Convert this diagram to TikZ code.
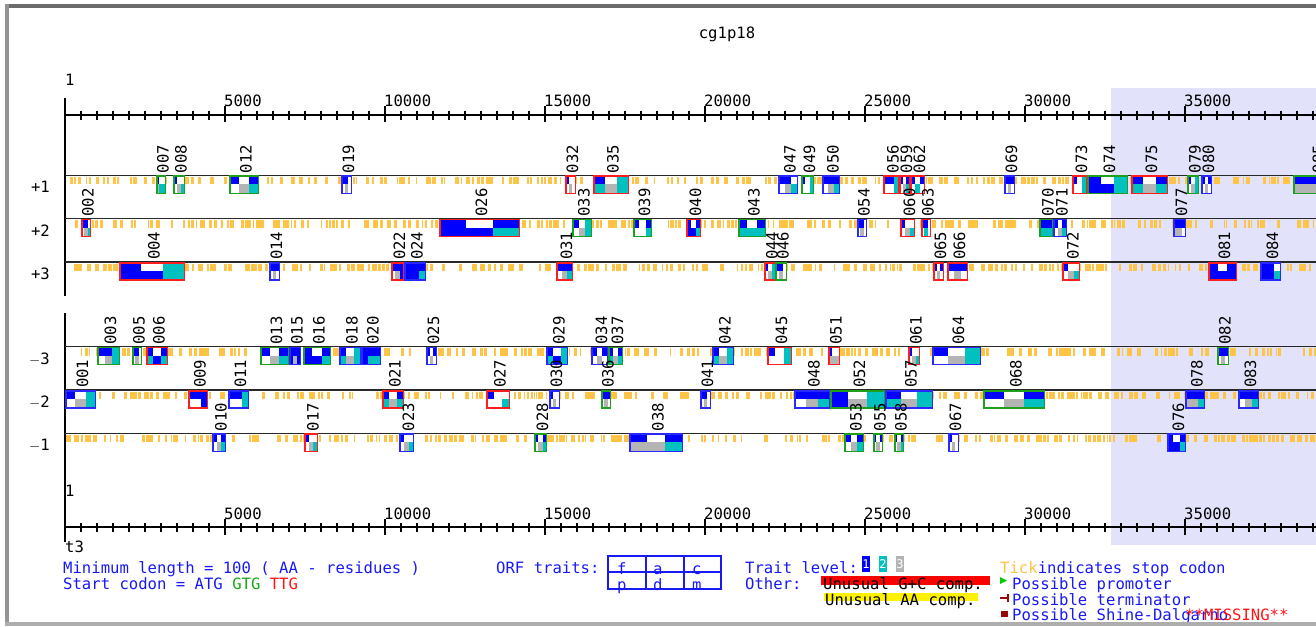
\documentclass[tikz,border=0pt]{standalone}
\usepackage{fontspec}
\setmainfont{DejaVu Sans Mono}
\definecolor{cB}{RGB}{0,0,255}
\definecolor{cW}{RGB}{255,255,255}
\definecolor{cC}{RGB}{0,192,192}
\definecolor{cG}{RGB}{180,180,180}
\definecolor{bB}{RGB}{40,40,255}
\definecolor{bG}{RGB}{30,160,30}
\definecolor{bR}{RGB}{255,30,30}
\definecolor{tickc}{RGB}{255,196,70}
\definecolor{shadec}{RGB}{226,226,250}
\definecolor{txtblue}{RGB}{25,25,245}
\definecolor{gtgc}{RGB}{20,170,20}
\definecolor{ttgc}{RGB}{255,20,20}
\definecolor{darkredc}{RGB}{150,10,10}
\definecolor{lineg}{RGB}{40,40,40}
\newcommand\lblfont{\fontsize{15.6}{16}\selectfont}
\newcommand\orfcells[6]{%
  \fill[c#1] (\orfXa,\orfY) rectangle (\orfXb,\orfY+9);
  \fill[c#2] (\orfXb,\orfY) rectangle (\orfXc,\orfY+9);
  \fill[c#3] (\orfXc,\orfY) rectangle (\orfXd,\orfY+9);
  \fill[c#4] (\orfXa,\orfY+9) rectangle (\orfXb,\orfY+18);
  \fill[c#5] (\orfXb,\orfY+9) rectangle (\orfXc,\orfY+18);
  \fill[c#6] (\orfXc,\orfY+9) rectangle (\orfXd,\orfY+18);
}
\newcommand\orf[6]{%
  \pgfmathsetmacro\orfXa{#2}\pgfmathsetmacro\orfXd{#3}%
  \pgfmathsetmacro\orfXb{#2+(#3-#2)/3}\pgfmathsetmacro\orfXc{#2+2*(#3-#2)/3}%
  \def\orfY{#4}%
  \orfcells#6
  \draw[#5,line width=1.5pt] (\orfXa+0.75,\orfY+0.75) rectangle (\orfXd-0.75,\orfY+18);
  \node[orflabel] (o#1) at ({(\orfXa+\orfXd)/2+7.5},{\orfY-2}) {#1};
}
\newcommand\stopticks[1]{%
  \foreach \k in {1,...,300}{%
    \pgfmathsetmacro\tx{66+1250*rnd}%
    \pgfmathsetmacro\tw{1.2+2*rnd}%
    \fill[tickc] (\tx,#1+1.5) rectangle ++(\tw,7.5);
  }}
\tikzset{
  orflabel/.style={rotate=90,anchor=base west,inner sep=0pt,font=\lblfont,text=black},
  txt/.style={anchor=base west,inner sep=0pt,font=\lblfont},
  legtxt/.style={txt,text=txtblue},
  frameline/.style={draw=lineg,line width=1.3pt},
  axisline/.style={draw=black,line width=1.3pt},
}
\begin{document}
\begin{tikzpicture}[x=1pt,y=-1pt]
\useasboundingbox (0,0) rectangle (1316,626);
\clip (0,0) rectangle (1316,626);
\fill[white] (0,0) rectangle (1316,626);
% shaded region
\fill[shadec] (1111,88) rectangle (1316,545);
% title
\node[txt,anchor=base] (title) at (727,38) {cg1p18};
% top ruler
\node[txt] (r1top) at (65,85) {1};
\draw[axisline] (65,115) -- (1316,115);
\foreach \i in {1,...,78}{\draw[black,line width=1.1pt] (65+16*\i,110.5) -- (65+16*\i,119.5);}
\foreach \k/\lab in {1/5000,2/10000,3/15000,4/20000,5/25000,6/30000,7/35000}{%
  \draw[black,line width=1.3pt] (65+160*\k,106) -- (65+160*\k,122);
  \node[txt] (rt\k) at (65+160*\k-1,106) {\lab};}
\draw[axisline] (65,98) -- (65,296);
\draw[axisline] (65,313) -- (65,542);
% bottom ruler
\node[txt] (r1bot) at (65,496) {1};
\draw[axisline] (65,527) -- (1316,527);
\foreach \i in {1,...,78}{\draw[black,line width=1.1pt] (65+16*\i,523) -- (65+16*\i,532);}
\foreach \k/\lab in {1/5000,2/10000,3/15000,4/20000,5/25000,6/30000,7/35000}{%
  \draw[black,line width=1.3pt] (65+160*\k,519) -- (65+160*\k,535);
  \node[txt] (rb\k) at (65+160*\k-1,519) {\lab};}
\node[txt] (t3) at (65,552) {t3};
% frame lines and labels
\foreach \yy/\lab/\nm in {175.3/+1/fa,218.7/+2/fb,262/+3/fc,346.7/$-$3/fd,390/$-$2/fe,433.3/$-$1/ff}{%
  \draw[frameline] (65,\yy) -- (1316,\yy);
  \node[txt,anchor=base east] (\nm) at (50,\yy+17.5) {\lab};}
\pgfmathsetseed{4711}
\stopticks{175.3}
\stopticks{218.7}
\stopticks{262}
\stopticks{346.7}
\stopticks{390}
\stopticks{433.3}
% frame +1
\orf{007}{156}{166}{175.3}{bG}{BWWGCC}
\orf{008}{173}{185}{175.3}{bG}{BWWWGC}
\orf{012}{229}{259}{175.3}{bG}{BWBWGC}
\orf{019}{341}{352}{175.3}{bB}{BBWWGW}
\orf{032}{565}{576}{175.3}{bR}{BWWWGW}
\orf{035}{593}{629}{175.3}{bR}{BWCCGC}
\orf{047}{778}{798}{175.3}{bB}{BBWWGC}
\orf{049}{801}{814}{175.3}{bG}{BWCWWC}
\orf{050}{822}{840}{175.3}{bB}{BBBWGC}
\orf{056}{883}{899}{175.3}{bR}{BBCWWC}
\orf{059}{899}{910}{175.3}{bR}{BWBWGC}
\orf{062}{910}{925}{175.3}{bR}{BWBWCW}
\orf{069}{1004}{1015}{175.3}{bB}{BBBWGW}
\orf{073}{1072}{1087}{175.3}{bR}{BWCWWC}
\orf{074}{1087}{1128}{175.3}{bG}{BWCBBC}
\orf{075}{1131}{1168}{175.3}{bR}{BWBCGC}
\orf{079}{1187}{1199}{175.3}{bG}{BWCWGC}
\orf{080}{1201}{1212}{175.3}{bB}{BWBWGW}
\orf{085}{1293}{1340}{175.3}{bG}{BBBGGG}
% frame +2
\orf{002}{81}{91}{218.7}{bR}{BBWWGC}
\orf{026}{439}{520}{218.7}{bR}{BWBBBC}
\orf{033}{572}{592}{218.7}{bG}{BWCWGC}
\orf{039}{633}{652}{218.7}{bG}{BWBWWC}
\orf{040}{686}{701}{218.7}{bR}{BWBBBC}
\orf{043}{738}{766}{218.7}{bG}{BWBCCC}
\orf{054}{857}{867}{218.7}{bB}{BBWWGW}
\orf{060}{900}{915}{218.7}{bR}{BWWWGC}
\orf{063}{921}{931}{218.7}{bR}{BBWWCW}
\orf{070}{1039}{1053}{218.7}{bG}{BBBCCC}
\orf{071}{1053}{1067}{218.7}{bB}{BWBWGC}
\orf{077}{1173}{1186}{218.7}{bB}{BBBGGW}
% frame +3
\orf{004}{119}{185}{262}{bR}{BWCBBC}
\orf{014}{269}{280}{262}{bB}{BBBWGW}
\orf{022}{391}{404}{262}{bR}{BBBWGB}
\orf{024}{404}{426}{262}{bB}{BBBBBC}
\orf{031}{556}{573}{262}{bR}{BBBWGC}
\orf{044}{764}{776}{262}{bR}{BWCWGC}
\orf{046}{775}{787}{262}{bG}{BBWWGW}
\orf{065}{933}{944}{262}{bR}{BWBWGW}
\orf{066}{947}{968}{262}{bR}{BBBWGW}
\orf{072}{1062}{1080}{262}{bR}{BWWWGC}
\orf{081}{1208}{1237}{262}{bR}{BWBBBB}
\orf{084}{1260}{1281}{262}{bB}{BBWBBC}
% frame -3
\orf{003}{97}{120}{346.7}{bG}{BBCWGC}
\orf{005}{132}{142}{346.7}{bG}{BBWWGW}
\orf{006}{146}{168}{346.7}{bR}{BWBCBC}
\orf{013}{260}{289}{346.7}{bG}{BWBWGC}
\orf{015}{289}{301}{346.7}{bB}{BBBBGB}
\orf{016}{303}{331}{346.7}{bG}{BWBBBC}
\orf{018}{339}{361}{346.7}{bB}{BWCCGC}
\orf{020}{361}{381}{346.7}{bB}{BBBBCC}
\orf{025}{426}{437}{346.7}{bB}{BWBWGW}
\orf{029}{546}{568}{346.7}{bB}{BWCCBC}
\orf{034}{591}{608}{346.7}{bB}{BWBWGW}
\orf{037}{608}{623}{346.7}{bG}{BWBCGC}
\orf{042}{712}{734}{346.7}{bB}{BWCCGC}
\orf{045}{767}{792}{346.7}{bR}{BWCWWC}
\orf{051}{828}{840}{346.7}{bR}{BWWGGG}
\orf{061}{908}{920}{346.7}{bR}{BWWWGC}
\orf{064}{932}{981}{346.7}{bB}{BWCWGC}
\orf{082}{1217}{1229}{346.7}{bG}{BBBWGW}
% frame -2
\orf{001}{65}{96}{390}{bB}{BWCWGC}
\orf{009}{188}{208}{390}{bR}{BBBWWB}
\orf{011}{228}{249}{390}{bB}{BBCWWC}
\orf{021}{382}{404}{390}{bR}{BWBCGC}
\orf{027}{486}{510}{390}{bR}{BWWWWC}
\orf{030}{549}{560}{390}{bB}{BWWWGW}
\orf{036}{601}{611}{390}{bG}{BBBWGW}
\orf{041}{700}{711}{390}{bB}{BBWWGW}
\orf{048}{794}{830}{390}{bB}{BBBWGC}
\orf{052}{830}{885}{390}{bG}{BWCBGC}
\orf{057}{885}{933}{390}{bB}{BWCCGC}
\orf{068}{983}{1045}{390}{bG}{BWBWGC}
\orf{078}{1185}{1205}{390}{bB}{BBBGGC}
\orf{083}{1238}{1259}{390}{bB}{BBBWGC}
% frame -1
\orf{010}{212}{226}{433.3}{bB}{BWBWGC}
\orf{017}{304}{318}{433.3}{bR}{BWWWGC}
\orf{023}{399}{414}{433.3}{bB}{BWWWGC}
\orf{028}{534}{547}{433.3}{bG}{BWBWGC}
\orf{038}{629}{683}{433.3}{bB}{BWBGGC}
\orf{053}{844}{864}{433.3}{bG}{BWBWGC}
\orf{055}{873}{883}{433.3}{bG}{BWBWGW}
\orf{058}{894}{904}{433.3}{bG}{BWBWGC}
\orf{067}{948}{959}{433.3}{bB}{BWWWGW}
\orf{076}{1167}{1186}{433.3}{bB}{BWBBBC}
% legend
\node[legtxt] (minlen) at (63,573) {Minimum length = 100 ( AA - residues )};
\node[legtxt] (startc) at (63,589) {Start codon = ATG {\color{gtgc}GTG} {\color{ttgc}TTG}};
\node[legtxt] (orft) at (496,573) {ORF traits:};
\draw[txtblue,line width=1.2pt] (608,556) rectangle (721,589);
\draw[txtblue,line width=1.2pt] (608,572) -- (721,572) (646,556) -- (646,589) (684,556) -- (684,589);
\node[legtxt] (trf) at (617,574) {f};
\node[legtxt] (tra) at (653,574) {a};
\node[legtxt] (trc) at (692,574) {c};
\node[legtxt] (trp) at (617,590) {p};
\node[legtxt] (trd) at (653,590) {d};
\node[legtxt] (trm) at (692,590) {m};
\node[legtxt] (tlev) at (745,573) {Trait level:};
\fill[cB] (862,556) rectangle (870,572);
\fill[cC] (879,556) rectangle (887,572);
\fill[cG] (896,556) rectangle (904,572);
\node[white,inner sep=0pt,font=\fontsize{12}{12}\selectfont] (lv1) at (866,564.5) {1};
\node[white,inner sep=0pt,font=\fontsize{12}{12}\selectfont] (lv2) at (883,564.5) {2};
\node[white,inner sep=0pt,font=\fontsize{12}{12}\selectfont] (lv3) at (900,564.5) {3};
\node[legtxt] (other) at (745,589) {Other:};
\fill[red] (821,576) rectangle (990,585);
\node[txt,text=black] (ugc) at (823,589) {Unusual G+C comp.};
\fill[yellow] (824,593) rectangle (978,601);
\node[txt,text=black] (uaa) at (825,605) {Unusual AA comp.};
\node[legtxt] (tick) at (1000,573) {{\color{tickc}Tick}indicates stop codon};
\fill[green!80!black] (1000,577) -- (1007,580.5) -- (1000,584) -- cycle;
\node[legtxt] (prom) at (1012,589) {Possible promoter};
\draw[darkredc,line width=2pt] (1000,598) -- (1008,598);
\draw[darkredc,line width=2pt] (1008,594) -- (1008,602);
\node[legtxt] (term) at (1012,605) {Possible terminator};
\fill[darkredc] (1001,611) rectangle (1008,617);
\node[legtxt] (shine) at (1012,620.5) {Possible Shine-Dalgarno};
\node[txt,text=ttgc] (missing) at (1185,620) {**MISSING**};
% outer frame
\fill[black!58] (4.5,4.5) rectangle (1316,8.5);
\fill[black!42] (4.5,4.5) rectangle (9,626);
\fill[black!32] (4.5,621.5) rectangle (1316,626);
\end{tikzpicture}
\end{document}
